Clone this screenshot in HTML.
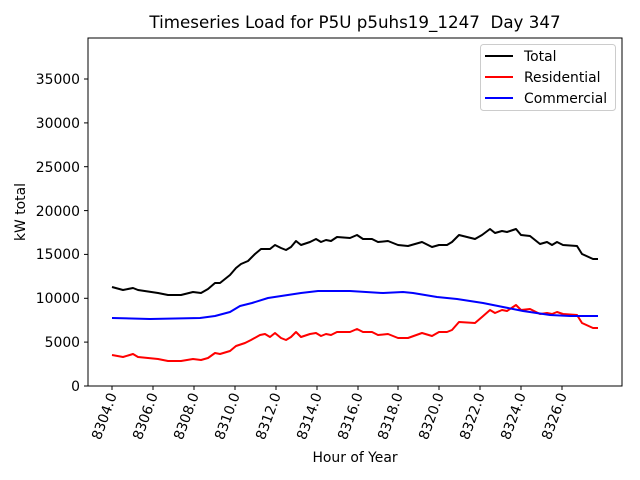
<!DOCTYPE html>
<html><head><style>body{margin:0;background:#fff}svg{display:block}text{font-family:"DejaVu Sans","Liberation Sans",sans-serif;fill:#000}</style></head><body>
<svg width="640" height="480" xmlns="http://www.w3.org/2000/svg">
<rect width="640" height="480" fill="#fff"/>
<text x="355" y="28" font-size="16.7" text-anchor="middle" style="white-space:pre">Timeseries Load for P5U p5uhs19_1247  Day 347</text>
<polyline fill="none" stroke="#000" stroke-width="2" stroke-linejoin="round" points="112,287 123,290 133,288 138,290 158,293 168,295 181,295 193,292 201,293 208,289 215,283 220,283 230,275 236,268 241,264 248,261 255,254 261,249 270,249 275,245 281,248 286,250 291,247 296,241 301,245 310,242 316,239 321,242 326,240 331,241 337,237 350,238 357,235 363,239 372,239 378,242 388,241 398,245 408,246 422,242 432,247 439,245 447,245 452,242 459,235 475,239 482,235 490,229 495,233 502,231 507,232 513,230 516,229 521,235 530,236 540,244 547,242 552,245 557,242 563,245 577,246 582,254 593,259 598,259"/>
<polyline fill="none" stroke="#f00" stroke-width="2" stroke-linejoin="round" points="112,355 123,357 133,354 138,357 158,359 168,361 181,361 193,359 201,360 208,358 215,353 220,354 230,351 236,346 245,343 251,340 260,335 265,334 270,337 275,333 281,338 286,340 291,337 296,332 301,337 310,334 316,333 321,336 326,334 331,335 337,332 350,332 357,329 363,332 372,332 378,335 388,334 398,338 408,338 422,333 432,336 439,332 447,332 452,330 459,322 475,323 482,317 490,310 495,313 502,310 507,311 513,307 516,305 521,310 530,309 540,314 547,313 552,314 557,312 563,314 577,315 582,323 593,328 598,328"/>
<polyline fill="none" stroke="#00f" stroke-width="2" stroke-linejoin="round" points="112,318 150,319 200,318 215,316 230,312 240,306 252,303 268,298 301,293 318,291 338,291 350,291 383,293 403,292 413,293 437,297 457,299 483,303 503,307 523,311 550,315 570,316 598,316"/>
<rect x="88" y="38" width="534" height="348" fill="none" stroke="#000" stroke-width="1"/>
<g stroke="#000" stroke-width="1">
<line x1="84" y1="386" x2="88" y2="386"/><line x1="84" y1="342.1" x2="88" y2="342.1"/><line x1="84" y1="298.3" x2="88" y2="298.3"/><line x1="84" y1="254.4" x2="88" y2="254.4"/><line x1="84" y1="210.6" x2="88" y2="210.6"/><line x1="84" y1="166.7" x2="88" y2="166.7"/><line x1="84" y1="122.9" x2="88" y2="122.9"/><line x1="84" y1="79" x2="88" y2="79"/>
<line x1="112" y1="386" x2="112" y2="390"/><line x1="153" y1="386" x2="153" y2="390"/><line x1="194" y1="386" x2="194" y2="390"/><line x1="235" y1="386" x2="235" y2="390"/><line x1="276" y1="386" x2="276" y2="390"/><line x1="317" y1="386" x2="317" y2="390"/><line x1="358" y1="386" x2="358" y2="390"/><line x1="398" y1="386" x2="398" y2="390"/><line x1="439" y1="386" x2="439" y2="390"/><line x1="480" y1="386" x2="480" y2="390"/><line x1="521" y1="386" x2="521" y2="390"/><line x1="562" y1="386" x2="562" y2="390"/>
</g>
<g font-size="13.9" text-anchor="end">
<text x="80" y="391">0</text><text x="80" y="347">5000</text><text x="80" y="303">10000</text><text x="80" y="259">15000</text><text x="80" y="216">20000</text><text x="80" y="172">25000</text><text x="80" y="128">30000</text><text x="80" y="84">35000</text>
</g>
<g font-size="13.9" text-anchor="end">
<text transform="translate(117,395) rotate(-70)">8304.0</text>
<text transform="translate(158,395) rotate(-70)">8306.0</text>
<text transform="translate(199,395) rotate(-70)">8308.0</text>
<text transform="translate(240,395) rotate(-70)">8310.0</text>
<text transform="translate(281,395) rotate(-70)">8312.0</text>
<text transform="translate(322,395) rotate(-70)">8314.0</text>
<text transform="translate(363,395) rotate(-70)">8316.0</text>
<text transform="translate(403,395) rotate(-70)">8318.0</text>
<text transform="translate(444,395) rotate(-70)">8320.0</text>
<text transform="translate(485,395) rotate(-70)">8322.0</text>
<text transform="translate(526,395) rotate(-70)">8324.0</text>
<text transform="translate(567,395) rotate(-70)">8326.0</text>
</g>
<text x="355" y="462" font-size="13.9" text-anchor="middle">Hour of Year</text>
<text transform="translate(25,212) rotate(-90)" font-size="13.9" text-anchor="middle">kW total</text>
<rect x="480.5" y="44.5" width="135" height="66" rx="3" fill="#fff" stroke="#ccc"/>
<line x1="485" y1="56" x2="513" y2="56" stroke="#000" stroke-width="2"/>
<line x1="485" y1="77" x2="513" y2="77" stroke="#f00" stroke-width="2"/>
<line x1="485" y1="98" x2="513" y2="98" stroke="#00f" stroke-width="2"/>
<g font-size="13.9"><text x="524" y="61">Total</text><text x="524" y="82">Residential</text><text x="524" y="103">Commercial</text></g>
</svg>
</body></html>
